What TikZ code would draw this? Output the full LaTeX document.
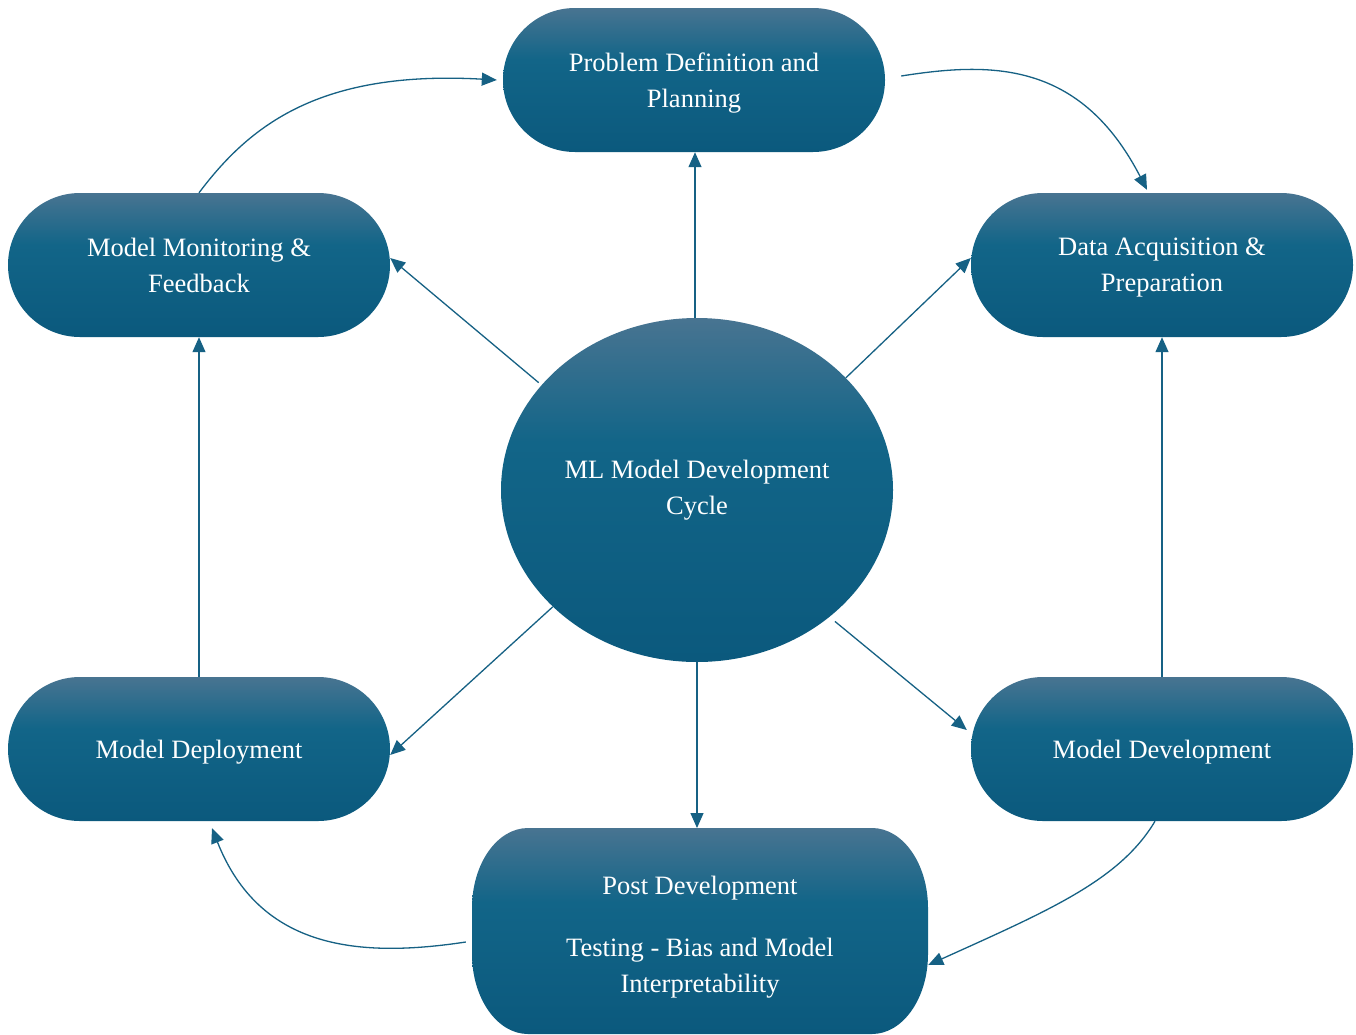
\documentclass[tikz,border=0pt]{standalone}
\usepackage{fontspec}
\setmainfont{Liberation Serif}
\usetikzlibrary{arrows.meta,shapes.geometric}
\definecolor{nodetop}{RGB}{72,116,145}
\definecolor{nodemid}{RGB}{18,101,136}
\definecolor{nodebot}{RGB}{11,89,125}
\definecolor{edgecol}{RGB}{22,97,132}
\pgfdeclareverticalshading{nodeshade}{100bp}{color(0bp)=(nodebot); color(25bp)=(nodebot); color(57bp)=(nodemid); color(75bp)=(nodetop); color(100bp)=(nodetop)}
\newcommand{\nodesc}[1]{\raisebox{0pt}[\height][0pt]{#1}}
\begin{document}
\begin{tikzpicture}[x=1pt,y=-1pt,
  font=\fontsize{26.5}{36}\selectfont,
  stage/.style={rectangle, rounded corners=72pt, minimum width=382pt, minimum height=144pt,
    inner sep=0pt, shading=nodeshade, text=white, align=center},
  hub/.style={ellipse, minimum width=392pt, minimum height=344pt, inner sep=0pt,
    shading=nodeshade, text=white, align=center},
  link/.style={draw=edgecol, line width=1.3pt, -{Triangle[length=15pt,width=13pt]}}]
\fill[white] (0,0) rectangle (1356,1034);
\useasboundingbox (0,0) rectangle (1356,1034);

\node[stage] (prob) at (694,80) {Problem Definition and\\\nodesc{Planning}};
\node[stage] (mon) at (199,265) {Model Monitoring \&\\Feedback};
\node[stage] (data) at (1162,265) {Data Acquisition \&\\\nodesc{Preparation}};
\node[stage] (dep) at (199,749) {\nodesc{Model Deployment}};
\node[stage] (dev) at (1162,749) {\nodesc{Model Development}};
\node[hub] (c) at (697,490) {ML Model Development\\Cycle};

\shade[shading=nodeshade] (528,828) -- (872,828)
  .. controls (902.9,828) and (928,863.8) .. (928,908) -- (928,954)
  .. controls (928,998.2) and (902.9,1034) .. (872,1034) -- (528,1034)
  .. controls (497.1,1034) and (472,998.2) .. (472,954) -- (472,908)
  .. controls (472,863.8) and (497.1,828) .. (528,828) -- cycle;
\node[align=center, text=white, minimum width=456pt, minimum height=206pt, inner sep=0pt]
  (post) at (700,937) {Post Development\\[26pt]Testing - Bias and Model\\Interpretability};
\coordinate (posttop) at (697,828);

\draw[link] ([xshift=-2pt]c.north) -- ([xshift=-2pt]c.north |- prob.south);
\draw[link] ([xshift=-5pt]c.145.6) -- ([yshift=7pt]mon.east);
\draw[link] (c.37.6) -- ([yshift=7pt]data.west);
\draw[link] (c.219.5) -- ([yshift=-6pt]dep.east);
\draw[link] (c.south) -- (posttop);
\draw[link] ([shift={(6pt,-4pt)}]c.316.5) -- ([shift={(-4pt,19pt)}]dev.west);

\draw[link] (mon.north) .. controls (250,125) and (320,70) .. ([xshift=-6pt]prob.west);
\draw[link] ([shift={(16pt,4pt)}]prob.east) .. controls (990,62) and (1080,60) .. ([shift={(-15pt,3pt)}]data.north);
\draw[link] (dev) -- (data);
\draw[link] ([xshift=-7pt]dev.south) .. controls (1120,880) and (1050,910) .. ([yshift=-28pt]post.east);
\draw[link] ([shift={(-6pt,-5pt)}]post.west) .. controls (360,958) and (260,950) .. ([shift={(13pt,-7pt)}]dep.south);
\draw[link] (dep) -- (mon);
\end{tikzpicture}
\end{document}
